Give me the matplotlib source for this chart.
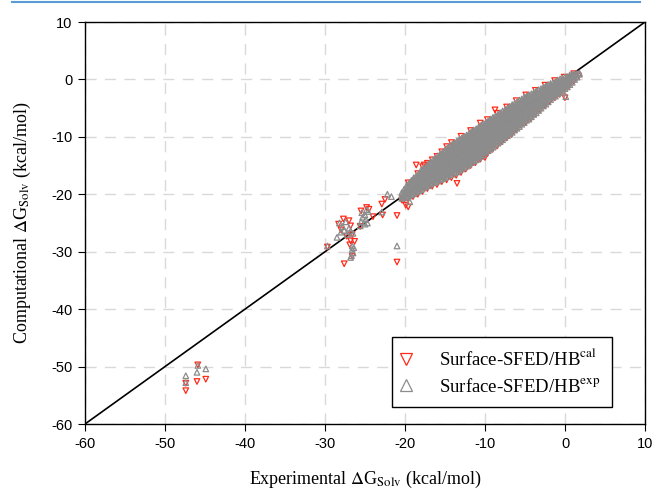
import matplotlib
matplotlib.use("Agg")
import matplotlib.pyplot as plt
from matplotlib.lines import Line2D

# ---------------- data ----------------
# Surface-SFED/HB^exp (gray, up-triangles): dense main band, column x -> list of y
exp_cols = [
    (1.8, [0.9, 1.1]), (1.5, [0.4, 0.8, 1.0]), (1.2, [0.0, 0.4, 0.8, 1.0]),
    (0.9, [-0.5, 0.0, 0.5, 0.9]), (0.6, [-0.9, -0.4, 0.1, 0.6, 0.8]),
    (0.3, [-1.3, -0.8, -0.3, 0.2, 0.5]), (0.0, [-1.6, -1.1, -0.6, -0.1, 0.4]),
    (-0.3, [-2.0, -1.5, -1.0, -0.5, 0.0, 0.2]), (-0.6, [-2.3, -1.8, -1.3, -0.8, -0.3, 0.1]),
    (-0.9, [-2.5, -2.0, -1.5, -1.0, -0.5, -0.1]), (-1.2, [-2.9, -2.4, -1.9, -1.4, -0.9, -0.4]),
    (-1.5, [-3.1, -2.6, -2.1, -1.6, -1.1, -0.6]), (-1.8, [-3.5, -3.0, -2.5, -2.0, -1.5, -1.0, -0.7]),
    (-2.1, [-3.9, -3.4, -2.9, -2.4, -1.9, -1.4, -0.9]),
    (-2.4, [-4.3, -3.8, -3.3, -2.8, -2.3, -1.8, -1.3, -1.1]),
    (-2.7, [-4.6, -4.1, -3.6, -3.1, -2.6, -2.1, -1.6, -1.4]),
    (-3.0, [-5.0, -4.5, -4.0, -3.5, -3.0, -2.5, -2.0, -1.6]),
    (-3.3, [-5.4, -4.9, -4.4, -3.9, -3.4, -2.9, -2.4, -1.8]),
    (-3.6, [-5.8, -5.3, -4.8, -4.3, -3.8, -3.3, -2.8, -2.3, -2.0]),
    (-3.9, [-6.1, -5.6, -5.1, -4.6, -4.1, -3.6, -3.1, -2.6, -2.3]),
    (-4.2, [-6.5, -6.0, -5.5, -5.0, -4.5, -4.0, -3.5, -3.0, -2.5]),
    (-4.5, [-6.9, -6.4, -5.9, -5.4, -4.9, -4.4, -3.9, -3.4, -2.9, -2.7]),
    (-4.8, [-7.1, -6.6, -6.1, -5.6, -5.1, -4.6, -4.1, -3.6, -3.1, -2.9]),
    (-5.1, [-7.5, -7.0, -6.5, -6.0, -5.5, -5.0, -4.5, -4.0, -3.5, -3.1]),
    (-5.4, [-7.8, -7.3, -6.8, -6.3, -5.8, -5.3, -4.8, -4.3, -3.8, -3.4]),
    (-5.7, [-8.2, -7.7, -7.2, -6.7, -6.2, -5.7, -5.2, -4.7, -4.2, -3.6]),
    (-6.0, [-8.5, -8.0, -7.5, -7.0, -6.5, -6.0, -5.5, -5.0, -4.5, -3.9]),
    (-6.3, [-8.8, -8.3, -7.8, -7.3, -6.8, -6.3, -5.8, -5.3, -4.8, -4.2]),
    (-6.6, [-9.2, -8.7, -8.2, -7.7, -7.2, -6.7, -6.2, -5.7, -5.2, -4.7, -4.4]),
    (-6.9, [-9.5, -9.0, -8.5, -8.0, -7.5, -7.0, -6.5, -6.0, -5.5, -5.0, -4.7]),
    (-7.2, [-9.8, -9.3, -8.8, -8.3, -7.8, -7.3, -6.8, -6.3, -5.8, -5.3, -5.0]),
    (-7.5, [-10.1, -9.6, -9.1, -8.6, -8.1, -7.6, -7.1, -6.6, -6.1, -5.6, -5.3]),
    (-7.8, [-10.5, -10.0, -9.5, -9.0, -8.5, -8.0, -7.5, -7.0, -6.5, -6.0, -5.5]),
    (-8.1, [-10.8, -10.3, -9.8, -9.3, -8.8, -8.3, -7.8, -7.3, -6.8, -6.3, -5.8]),
    (-8.4, [-11.1, -10.6, -10.1, -9.6, -9.1, -8.6, -8.1, -7.6, -7.1, -6.6, -6.1]),
    (-8.7, [-11.4, -10.9, -10.4, -9.9, -9.4, -8.9, -8.4, -7.9, -7.4, -6.9, -6.4]),
    (-9.0, [-11.8, -11.3, -10.8, -10.3, -9.8, -9.3, -8.8, -8.3, -7.8, -7.3, -6.8, -6.6]),
    (-9.3, [-12.1, -11.6, -11.1, -10.6, -10.1, -9.6, -9.1, -8.6, -8.1, -7.6, -7.1, -6.9]),
    (-9.6, [-12.4, -11.9, -11.4, -10.9, -10.4, -9.9, -9.4, -8.9, -8.4, -7.9, -7.4, -7.2]),
    (-9.9, [-12.7, -12.2, -11.7, -11.2, -10.7, -10.2, -9.7, -9.2, -8.7, -8.2, -7.7, -7.5]),
    (-10.2, [-13.1, -12.6, -12.1, -11.6, -11.1, -10.6, -10.1, -9.6, -9.1, -8.6, -8.1, -7.7]),
    (-10.5, [-13.4, -12.9, -12.4, -11.9, -11.4, -10.9, -10.4, -9.9, -9.4, -8.9, -8.4, -8.0]),
    (-10.8, [-13.7, -13.2, -12.7, -12.2, -11.7, -11.2, -10.7, -10.2, -9.7, -9.2, -8.7, -8.3]),
    (-11.1, [-14.0, -13.5, -13.0, -12.5, -12.0, -11.5, -11.0, -10.5, -10.0, -9.5, -9.0, -8.6]),
    (-11.4, [-14.2, -13.7, -13.2, -12.7, -12.2, -11.7, -11.2, -10.7, -10.2, -9.7, -9.2, -8.8]),
    (-11.7, [-14.5, -14.0, -13.5, -13.0, -12.5, -12.0, -11.5, -11.0, -10.5, -10.0, -9.5, -9.1]),
    (-12.0, [-14.8, -14.3, -13.8, -13.3, -12.8, -12.3, -11.8, -11.3, -10.8, -10.3, -9.8, -9.4]),
    (-12.3, [-15.1, -14.6, -14.1, -13.6, -13.1, -12.6, -12.1, -11.6, -11.1, -10.6, -10.1, -9.7]),
    (-12.6, [-15.3, -14.8, -14.3, -13.8, -13.3, -12.8, -12.3, -11.8, -11.3, -10.8, -10.3, -9.9]),
    (-12.9, [-15.6, -15.1, -14.6, -14.1, -13.6, -13.1, -12.6, -12.1, -11.6, -11.1, -10.6, -10.2]),
    (-13.2, [-15.8, -15.3, -14.8, -14.3, -13.8, -13.3, -12.8, -12.3, -11.8, -11.3, -10.8, -10.4]),
    (-13.5, [-16.1, -15.6, -15.1, -14.6, -14.1, -13.6, -13.1, -12.6, -12.1, -11.6, -11.1, -10.7]),
    (-13.8, [-16.2, -15.7, -15.2, -14.7, -14.2, -13.7, -13.2, -12.7, -12.2, -11.7, -11.2, -11.0]),
    (-14.1, [-16.5, -16.0, -15.5, -15.0, -14.5, -14.0, -13.5, -13.0, -12.5, -12.0, -11.5, -11.3]),
    (-14.4, [-16.6, -16.1, -15.6, -15.1, -14.6, -14.1, -13.6, -13.1, -12.6, -12.1, -11.6]),
    (-14.7, [-16.9, -16.4, -15.9, -15.4, -14.9, -14.4, -13.9, -13.4, -12.9, -12.4, -11.9]),
    (-15.0, [-17.1, -16.6, -16.1, -15.6, -15.1, -14.6, -14.1, -13.6, -13.1, -12.6, -12.3]),
    (-15.3, [-17.3, -16.8, -16.3, -15.8, -15.3, -14.8, -14.3, -13.8, -13.3, -12.8, -12.7]),
    (-15.6, [-17.4, -16.9, -16.4, -15.9, -15.4, -14.9, -14.4, -13.9, -13.4, -13.0]),
    (-15.9, [-17.7, -17.2, -16.7, -16.2, -15.7, -15.2, -14.7, -14.2, -13.7, -13.3]),
    (-16.2, [-17.9, -17.4, -16.9, -16.4, -15.9, -15.4, -14.9, -14.4, -13.9, -13.7]),
    (-16.5, [-18.0, -17.5, -17.0, -16.5, -16.0, -15.5, -15.0, -14.5, -14.0]),
    (-16.8, [-18.2, -17.7, -17.2, -16.7, -16.2, -15.7, -15.2, -14.7, -14.4]),
    (-17.1, [-18.5, -18.0, -17.5, -17.0, -16.5, -16.0, -15.5, -15.0, -14.7]),
    (-17.4, [-18.7, -18.2, -17.7, -17.2, -16.7, -16.2, -15.7, -15.2]),
    (-17.7, [-18.9, -18.4, -17.9, -17.4, -16.9, -16.4, -15.9, -15.5]),
    (-18.0, [-19.2, -18.7, -18.2, -17.7, -17.2, -16.7, -16.2, -15.8]),
    (-18.3, [-19.4, -18.9, -18.4, -17.9, -17.4, -16.9, -16.4]),
    (-18.6, [-19.6, -19.1, -18.6, -18.1, -17.6, -17.1, -16.8]),
    (-18.9, [-19.9, -19.4, -18.9, -18.4, -17.9, -17.4, -17.1]),
    (-19.2, [-20.1, -19.6, -19.1, -18.6, -18.1, -17.6]),
    (-19.5, [-20.3, -19.8, -19.3, -18.8, -18.3, -18.0]),
    (-19.8, [-20.5, -20.0, -19.5, -19.0, -18.5]),
    (-20.1, [-20.6, -20.1, -19.6, -19.1]),
    (-20.4, [-20.7, -20.2, -19.7]),
]
# gray scattered points
exp_x = [0.1, -20.2, -21.7, -19.4, -22.2, -22.9, -21.0,
         -25.4, -25.0, -24.6, -25.3, -24.9, -25.5, -25.0, -24.7, -25.6, -24.8,
         -28.2, -27.8, -27.4, -27.0, -27.6, -28.0, -26.8, -27.2, -28.5, -26.5,
         -26.6, -26.6, -26.5, -26.7, -26.4, -26.8, -29.7,
         -45.9, -44.9, -46.0, -47.4, -47.4]
exp_y = [-3.0, -20.4, -20.4, -21.3, -20.0, -23.1, -29.0,
         -23.2, -23.6, -23.0, -24.0, -24.4, -24.8, -25.2, -25.0, -25.5, -22.7,
         -25.0, -25.6, -24.8, -25.9, -26.3, -26.6, -26.4, -27.0, -27.5, -26.8,
         -29.0, -29.6, -30.2, -30.7, -29.3, -31.0, -29.0,
         -49.8, -50.4, -51.0, -51.6, -52.8]

# Surface-SFED/HB^cal (red, down-triangles)
cal_cols = [
    (1.7, [0.6]), (1.1, [-0.3, 1.0]), (0.5, [-1.1]), (-0.1, [-1.8, 0.4]),
    (-0.7, [-2.6]), (-1.3, [-3.2, -0.2]), (-1.9, [-3.8]), (-2.5, [-4.6, -1.0]),
    (-3.1, [-5.3]), (-3.7, [-6.0, -1.9]), (-4.3, [-6.8, -4.4]), (-4.9, [-7.5, -2.7]),
    (-5.5, [-8.0]), (-6.1, [-8.8, -3.7]), (-6.7, [-9.6, -7.0]), (-7.3, [-10.2, -4.8]),
    (-7.9, [-10.9]), (-8.5, [-11.6, -5.9]), (-9.1, [-12.2, -9.5]), (-9.7, [-12.9, -7.0]),
    (-10.0, [-13.6, -13.0]), (-10.3, [-13.3, -12.8]), (-10.6, [-13.9, -7.6]),
    (-11.2, [-14.5]), (-11.8, [-15.0, -8.9]), (-12.4, [-15.6, -12.5]),
    (-13.0, [-16.2, -9.9]), (-13.5, [-18.1]), (-13.6, [-16.7]), (-14.2, [-17.1, -11.0]),
    (-14.8, [-17.5, -11.7]), (-15.4, [-17.8, -12.6]), (-16.0, [-18.3, -13.4]),
    (-16.6, [-18.6, -14.0]), (-17.2, [-19.0, -14.6]), (-17.8, [-19.5, -15.2]),
    (-18.4, [-20.0, -16.4]), (-19.0, [-20.4]), (-19.6, [-20.8, -18.0]), (-20.2, [-21.1]),
]
cal_x = [0.0, -8.75, -18.6, -17.6, -20.4, -19.9, -19.6, -22.5, -22.9, -22.8, -21.0, -24.0, -21.0,
         -24.8, -24.5, -25.5, -25.6,
         -27.7, -28.3, -27.0, -28.0, -26.6, -27.3, -26.8,
         -26.8, -26.3, -26.9, -26.6, -27.6, -29.7,
         -45.9, -47.4, -46.0, -44.9, -47.4]
cal_y = [-3.2, -5.3, -14.9, -14.9, -21.0, -21.9, -22.2, -20.9, -21.7, -23.6, -23.7, -23.9, -31.8,
         -22.3, -22.6, -22.9, -25.6,
         -24.3, -25.2, -24.6, -26.2, -27.0, -27.3, -25.5,
         -28.1, -28.2, -28.8, -30.8, -32.1, -29.2,
         -49.7, -52.9, -52.6, -52.2, -54.2]

diag = [-60, 10]
x_ticks = [-60, -50, -40, -30, -20, -10, 0, 10]
y_ticks = [-60, -50, -40, -30, -20, -10, 0, 10]

# ---------------- build ----------------
ex = [c for c, ys in exp_cols for _ in ys] + exp_x
ey = [y for c, ys in exp_cols for y in ys] + exp_y
cx = [c for c, ys in cal_cols for _ in ys] + cal_x
cy = [y for c, ys in cal_cols for y in ys] + cal_y

plt.rcParams['mathtext.fontset'] = 'stix'

fig = plt.figure(figsize=(6.54, 4.92), dpi=100)
fig.add_artist(Line2D([12/654, 640/654], [1 - 1.5/492, 1 - 1.5/492], color='#5b9bd5', lw=1.5))
ax = fig.add_axes([85/654, 1 - 424/492, 560/654, 402/492])

RED = '#ff2a1a'
GRAY = '#8c8c8c'

ax.plot(diag, diag, color='black', lw=1.2, zorder=2)
ax.scatter(cx, cy, marker='v', s=16, facecolors='none', edgecolors=RED, linewidths=0.9, zorder=3)
ax.scatter(ex, ey, marker='^', s=16, facecolors='none', edgecolors=GRAY, linewidths=0.9, zorder=4)

ax.set_xlim(-60, 10)
ax.set_ylim(-60, 10)
ax.set_xticks(x_ticks)
ax.set_yticks(y_ticks)
tick_font = {'family': 'Liberation Sans', 'size': 10.5}
ax.set_xticklabels([str(t) for t in x_ticks], fontdict=tick_font)
ax.set_yticklabels([str(t) for t in y_ticks], fontdict=tick_font)
ax.tick_params(direction='out', length=5, width=0.8, pad=4)
ax.grid(True, color='#d9d9d9', linestyle=(0, (8, 6)), lw=1.0, zorder=0)
ax.set_axisbelow(True)
for s in ax.spines.values():
    s.set_linewidth(1.0)

ax.set_xlabel(r'Experimental $\Delta$G$_{\mathrm{Solv}}$ (kcal/mol)',
              family='Liberation Serif', size=13, labelpad=13)
ax.set_ylabel(r'Computational $\Delta$G$_{\mathrm{Solv}}$ (kcal/mol)',
              family='Liberation Serif', size=13, labelpad=13)

handles = [
    Line2D([], [], marker='v', ls='none', markersize=9, markerfacecolor='none',
           markeredgecolor=RED, markeredgewidth=0.9),
    Line2D([], [], marker='^', ls='none', markersize=9, markerfacecolor='none',
           markeredgecolor=GRAY, markeredgewidth=0.9),
]
labels = [r'Surface-SFED/HB$^{\mathrm{cal}}$', r'Surface-SFED/HB$^{\mathrm{exp}}$']
leg = ax.legend(handles, labels, loc='lower right', bbox_to_anchor=(0.941, 0.042),
                prop={'family': 'Liberation Serif', 'size': 13.5},
                frameon=True, fancybox=False, edgecolor='black', framealpha=1,
                handlelength=0.3, handletextpad=1.6, borderpad=0.6, labelspacing=0.45,
                borderaxespad=0)
leg.get_frame().set_linewidth(1.0)

fig.savefig('out.png', dpi=100)
